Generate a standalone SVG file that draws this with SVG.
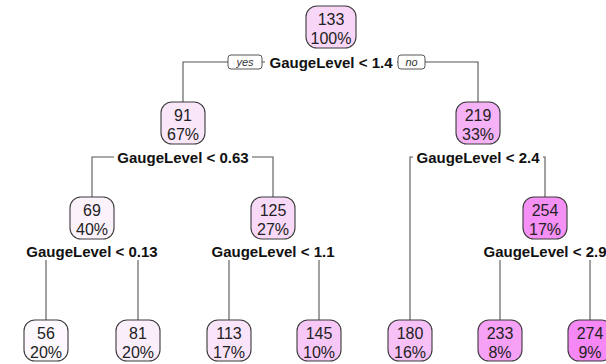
<svg xmlns="http://www.w3.org/2000/svg" width="606" height="364" viewBox="0 0 606 364">
  <style>
    .box { stroke: #3a3a3a; stroke-width: 1.1; }
    .num { font-family: "Liberation Sans", Arial, sans-serif; font-size: 16px; fill: #222222; text-anchor: middle; }
    .split { font-family: "Liberation Sans", Arial, sans-serif; font-size: 15px; font-weight: bold; fill: #111111; text-anchor: middle; }
    .tag { font-family: "Liberation Sans", Arial, sans-serif; font-size: 11px; font-style: italic; fill: #333333; text-anchor: middle; }
    .tagbox { fill: #ffffff; stroke: #444444; stroke-width: 0.9; }
    .wire { fill: none; stroke: #555555; stroke-width: 1.1; }
    .bg { fill: #ffffff; }
  </style>
  <rect width="606" height="364" fill="#ffffff"/>

  <!-- branch lines -->
  <g id="connectors">
    <path class="wire" d="M183,102 V62 H478 V102"/>
    <path class="wire" d="M92,197 V157 H273 V197"/>
    <path class="wire" d="M410,320 V157 H545 V197"/>
    <path class="wire" d="M46,320 V251 H138 V320"/>
    <path class="wire" d="M229,320 V251 H319 V320"/>
    <path class="wire" d="M500,320 V251 H590 V320"/>
  </g>

  <!-- split labels -->
  <g id="split-root">
    <rect class="bg" x="265" y="54" width="132" height="16"/>
    <text class="split" x="331" y="67.5">GaugeLevel &lt; 1.4</text>
    <rect class="tagbox" x="228" y="55" width="34" height="14" rx="3"/>
    <text class="tag" x="245" y="66">yes</text>
    <rect class="tagbox" x="398" y="55" width="27" height="14" rx="3"/>
    <text class="tag" x="411.5" y="66">no</text>
  </g>
  <g id="split-91">
    <rect class="bg" x="114" y="149" width="138" height="16"/>
    <text class="split" x="183" y="162.5">GaugeLevel &lt; 0.63</text>
  </g>
  <g id="split-219">
    <rect class="bg" x="413" y="149" width="130" height="16"/>
    <text class="split" x="478" y="162.5">GaugeLevel &lt; 2.4</text>
  </g>
  <g id="split-69">
    <rect class="bg" x="22" y="242" width="140" height="18"/>
    <text class="split" x="92" y="256.5">GaugeLevel &lt; 0.13</text>
  </g>
  <g id="split-125">
    <rect class="bg" x="209" y="242" width="130" height="18"/>
    <text class="split" x="273" y="256.5">GaugeLevel &lt; 1.1</text>
  </g>
  <g id="split-254">
    <rect class="bg" x="481" y="242" width="130" height="18"/>
    <text class="split" x="545" y="256.5">GaugeLevel &lt; 2.9</text>
  </g>

  <!-- tree nodes -->
  <g id="node-133">
    <rect class="box" x="306" y="6" width="50" height="42" rx="11" fill="#f8d6f8"/>
    <text class="num" x="331" y="24.5">133</text>
    <text class="num" x="331" y="43.5">100%</text>
  </g>
  <g id="node-91">
    <rect class="box" x="161" y="102" width="44" height="42" rx="11" fill="#f9e6f9"/>
    <text class="num" x="183" y="120.5">91</text>
    <text class="num" x="183" y="139.5">67%</text>
  </g>
  <g id="node-219">
    <rect class="box" x="456" y="102" width="44" height="42" rx="11" fill="#f6b2f6"/>
    <text class="num" x="478" y="120.5">219</text>
    <text class="num" x="478" y="139.5">33%</text>
  </g>
  <g id="node-69">
    <rect class="box" x="70" y="197" width="44" height="42" rx="11" fill="#fcf2fc"/>
    <text class="num" x="92" y="215.5">69</text>
    <text class="num" x="92" y="234.5">40%</text>
  </g>
  <g id="node-125">
    <rect class="box" x="251" y="197" width="44" height="42" rx="11" fill="#f8d9f8"/>
    <text class="num" x="273" y="215.5">125</text>
    <text class="num" x="273" y="234.5">27%</text>
  </g>
  <g id="node-254">
    <rect class="box" x="523" y="197" width="44" height="42" rx="11" fill="#f590f5"/>
    <text class="num" x="545" y="215.5">254</text>
    <text class="num" x="545" y="234.5">17%</text>
  </g>
  <g id="node-56">
    <rect class="box" x="24" y="320" width="44" height="41" rx="11" fill="#fdf8fd"/>
    <text class="num" x="46" y="338.5">56</text>
    <text class="num" x="46" y="357.5">20%</text>
  </g>
  <g id="node-81">
    <rect class="box" x="116" y="320" width="44" height="41" rx="11" fill="#fbeefb"/>
    <text class="num" x="138" y="338.5">81</text>
    <text class="num" x="138" y="357.5">20%</text>
  </g>
  <g id="node-113">
    <rect class="box" x="207" y="320" width="44" height="41" rx="11" fill="#f9e4f9"/>
    <text class="num" x="229" y="338.5">113</text>
    <text class="num" x="229" y="357.5">17%</text>
  </g>
  <g id="node-145">
    <rect class="box" x="297" y="320" width="44" height="41" rx="11" fill="#f7c8f7"/>
    <text class="num" x="319" y="338.5">145</text>
    <text class="num" x="319" y="357.5">10%</text>
  </g>
  <g id="node-180">
    <rect class="box" x="388" y="320" width="44" height="41" rx="11" fill="#f7c0f7"/>
    <text class="num" x="410" y="338.5">180</text>
    <text class="num" x="410" y="357.5">16%</text>
  </g>
  <g id="node-233">
    <rect class="box" x="478" y="320" width="44" height="41" rx="11" fill="#f6a0f6"/>
    <text class="num" x="500" y="338.5">233</text>
    <text class="num" x="500" y="357.5">8%</text>
  </g>
  <g id="node-274">
    <rect class="box" x="568" y="320" width="44" height="41" rx="11" fill="#f588f5"/>
    <text class="num" x="590" y="338.5">274</text>
    <text class="num" x="590" y="357.5">9%</text>
  </g>
</svg>
